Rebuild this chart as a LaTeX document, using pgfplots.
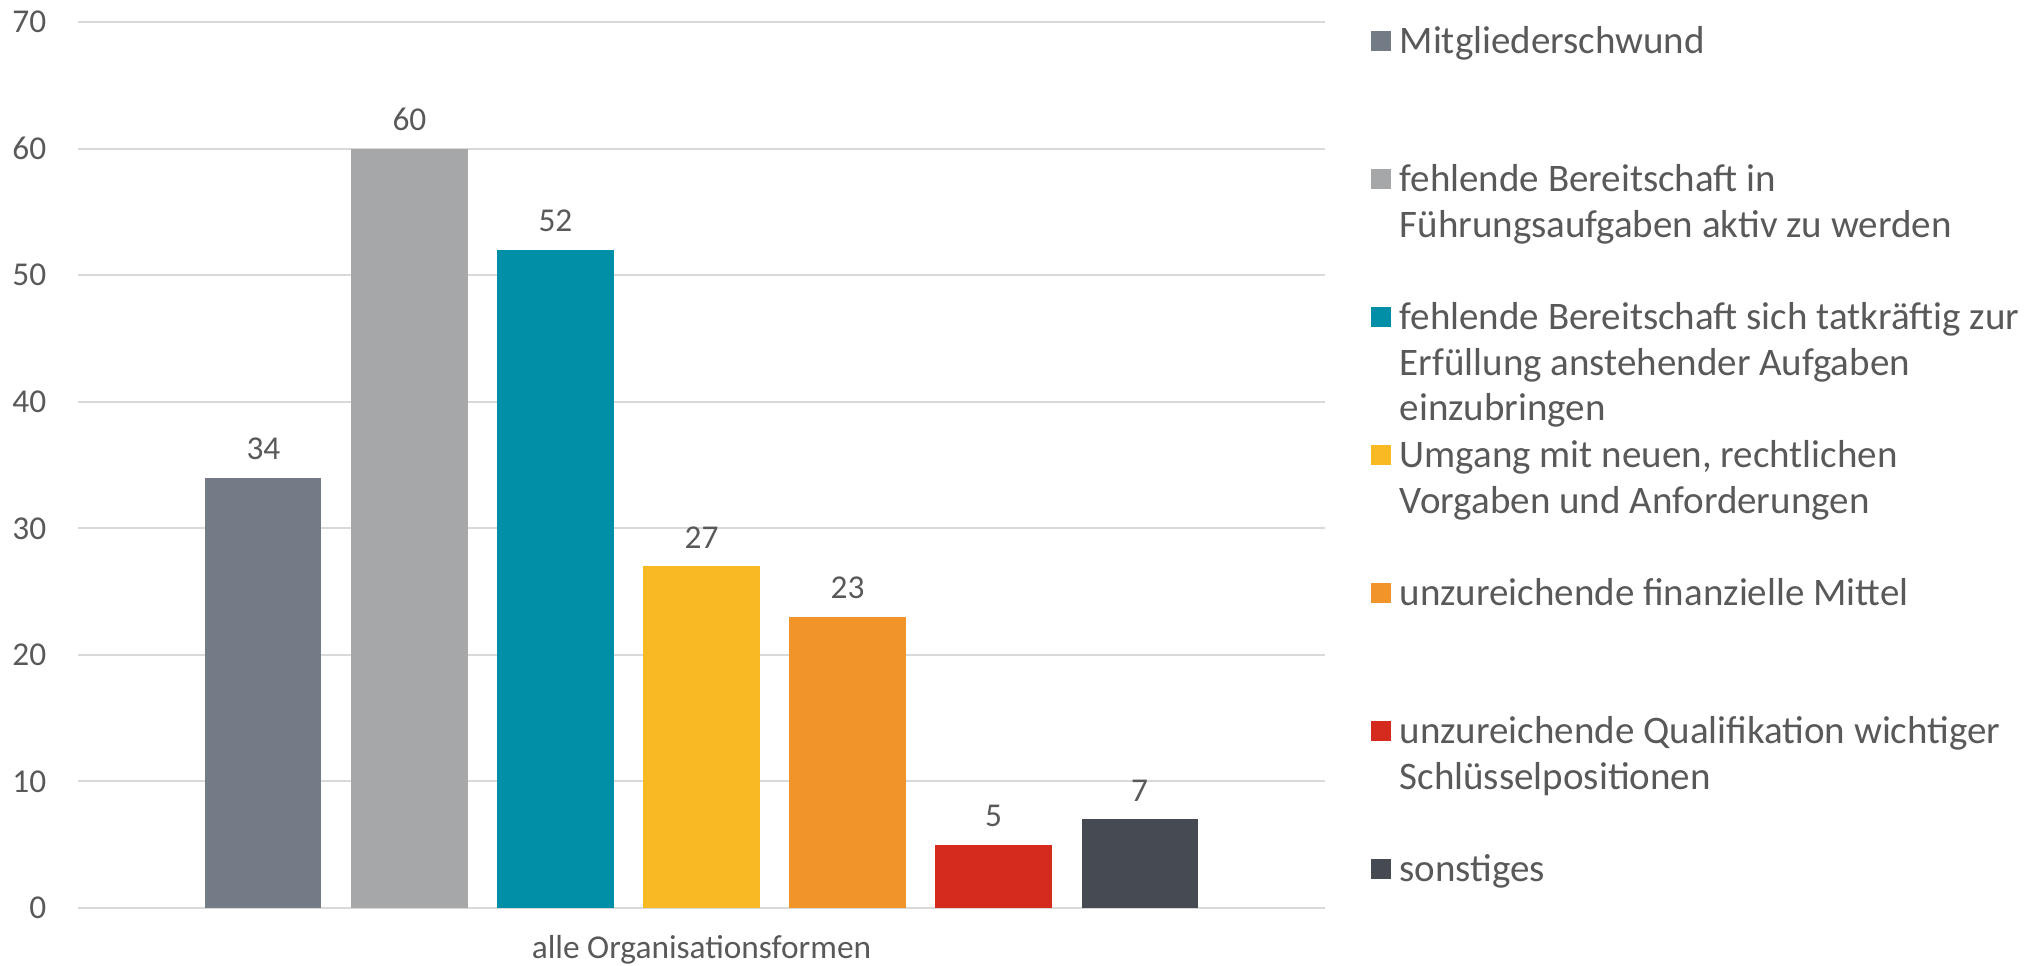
\documentclass[border=0pt]{standalone}
\usepackage{pgfplots}
\pgfplotsset{compat=1.18}
\usepackage{fontspec}
\setmainfont{Carlito}

\definecolor{txt}{HTML}{595959}
\definecolor{grd}{HTML}{D9D9D9}
\definecolor{cA}{HTML}{737B87}
\definecolor{cB}{HTML}{A6A7A9}
\definecolor{cC}{HTML}{008FA6}
\definecolor{cD}{HTML}{F9B922}
\definecolor{cE}{HTML}{F19429}
\definecolor{cF}{HTML}{D52B1E}
\definecolor{cG}{HTML}{464A52}

% legend text: first line on the row baseline, further lines hang below
\newcommand{\leg}[1]{\parbox[t]{200pt}{\fontsize{11.7}{13.7}\selectfont\raggedright\strut#1}}

\pgfplotsset{
  sqbar/.style={fill=#1, draw=none, bar shift=0pt,
    legend image code/.code={\fill[##1] (0pt,0.75pt) rectangle (6pt,6.75pt);}},
}

\begin{document}
\begin{tikzpicture}
\useasboundingbox (0,0) rectangle (612pt,289.5pt);
\begin{axis}[
  at={(23.4pt,17.1pt)}, anchor=south west,
  scale only axis,
  width=374.1pt, height=265.8pt,
  xmin=-0.27, xmax=8.27,
  ymin=0, ymax=70,
  ytick={0,10,...,70},
  xtick={4},
  xticklabels={alle Organisationsformen},
  ymajorgrids,
  grid style={grd, line width=0.6pt},
  axis line style={draw=none},
  major tick length=0pt,
  tick style={draw=none},
  ticklabel style={font=\fontsize{10}{12}\selectfont, text=txt},
  yticklabel style={xshift=-6pt},
  xticklabel style={yshift=-4.6pt},
  /pgf/number format/assume math mode=true,
  ybar,
  bar width=0.795,
  nodes near coords,
  nodes near coords style={font=\fontsize{10}{12}\selectfont, text=txt, anchor=center, yshift=8.7pt},
  legend style={draw=none, fill=none, at={(axis description cs:1,1)}, anchor=north west,
    xshift=13.5pt, yshift=0.3pt, inner sep=0pt, row sep=30.3pt, column sep=2.7pt,
    nodes={inner sep=0pt, text=txt}, cells={anchor=base west}},
  clip=false,
]
\addplot[sqbar=cA] coordinates {(1,34)};
\addlegendentry{\leg{Mitgliederschwund}}
\addplot[sqbar=cB] coordinates {(2,60)};
\addlegendentry{\leg{fehlende Bereitschaft in\\Führungsaufgaben aktiv zu werden}}
\addplot[sqbar=cC] coordinates {(3,52)};
\addlegendentry{\leg{fehlende Bereitschaft sich tatkräftig zur\\Erfüllung anstehender Aufgaben\\einzubringen}}
\addplot[sqbar=cD] coordinates {(4,27)};
\addlegendentry{\leg{Umgang mit neuen, rechtlichen\\Vorgaben und Anforderungen}}
\addplot[sqbar=cE] coordinates {(5,23)};
\addlegendentry{\leg{unzureichende finanzielle Mittel}}
\addplot[sqbar=cF] coordinates {(6,5)};
\addlegendentry{\leg{unzureichende Qualifikation wichtiger\\Schlüsselpositionen}}
\addplot[sqbar=cG] coordinates {(7,7)};
\addlegendentry{\leg{sonstiges}}
\end{axis}
\end{tikzpicture}
\end{document}
